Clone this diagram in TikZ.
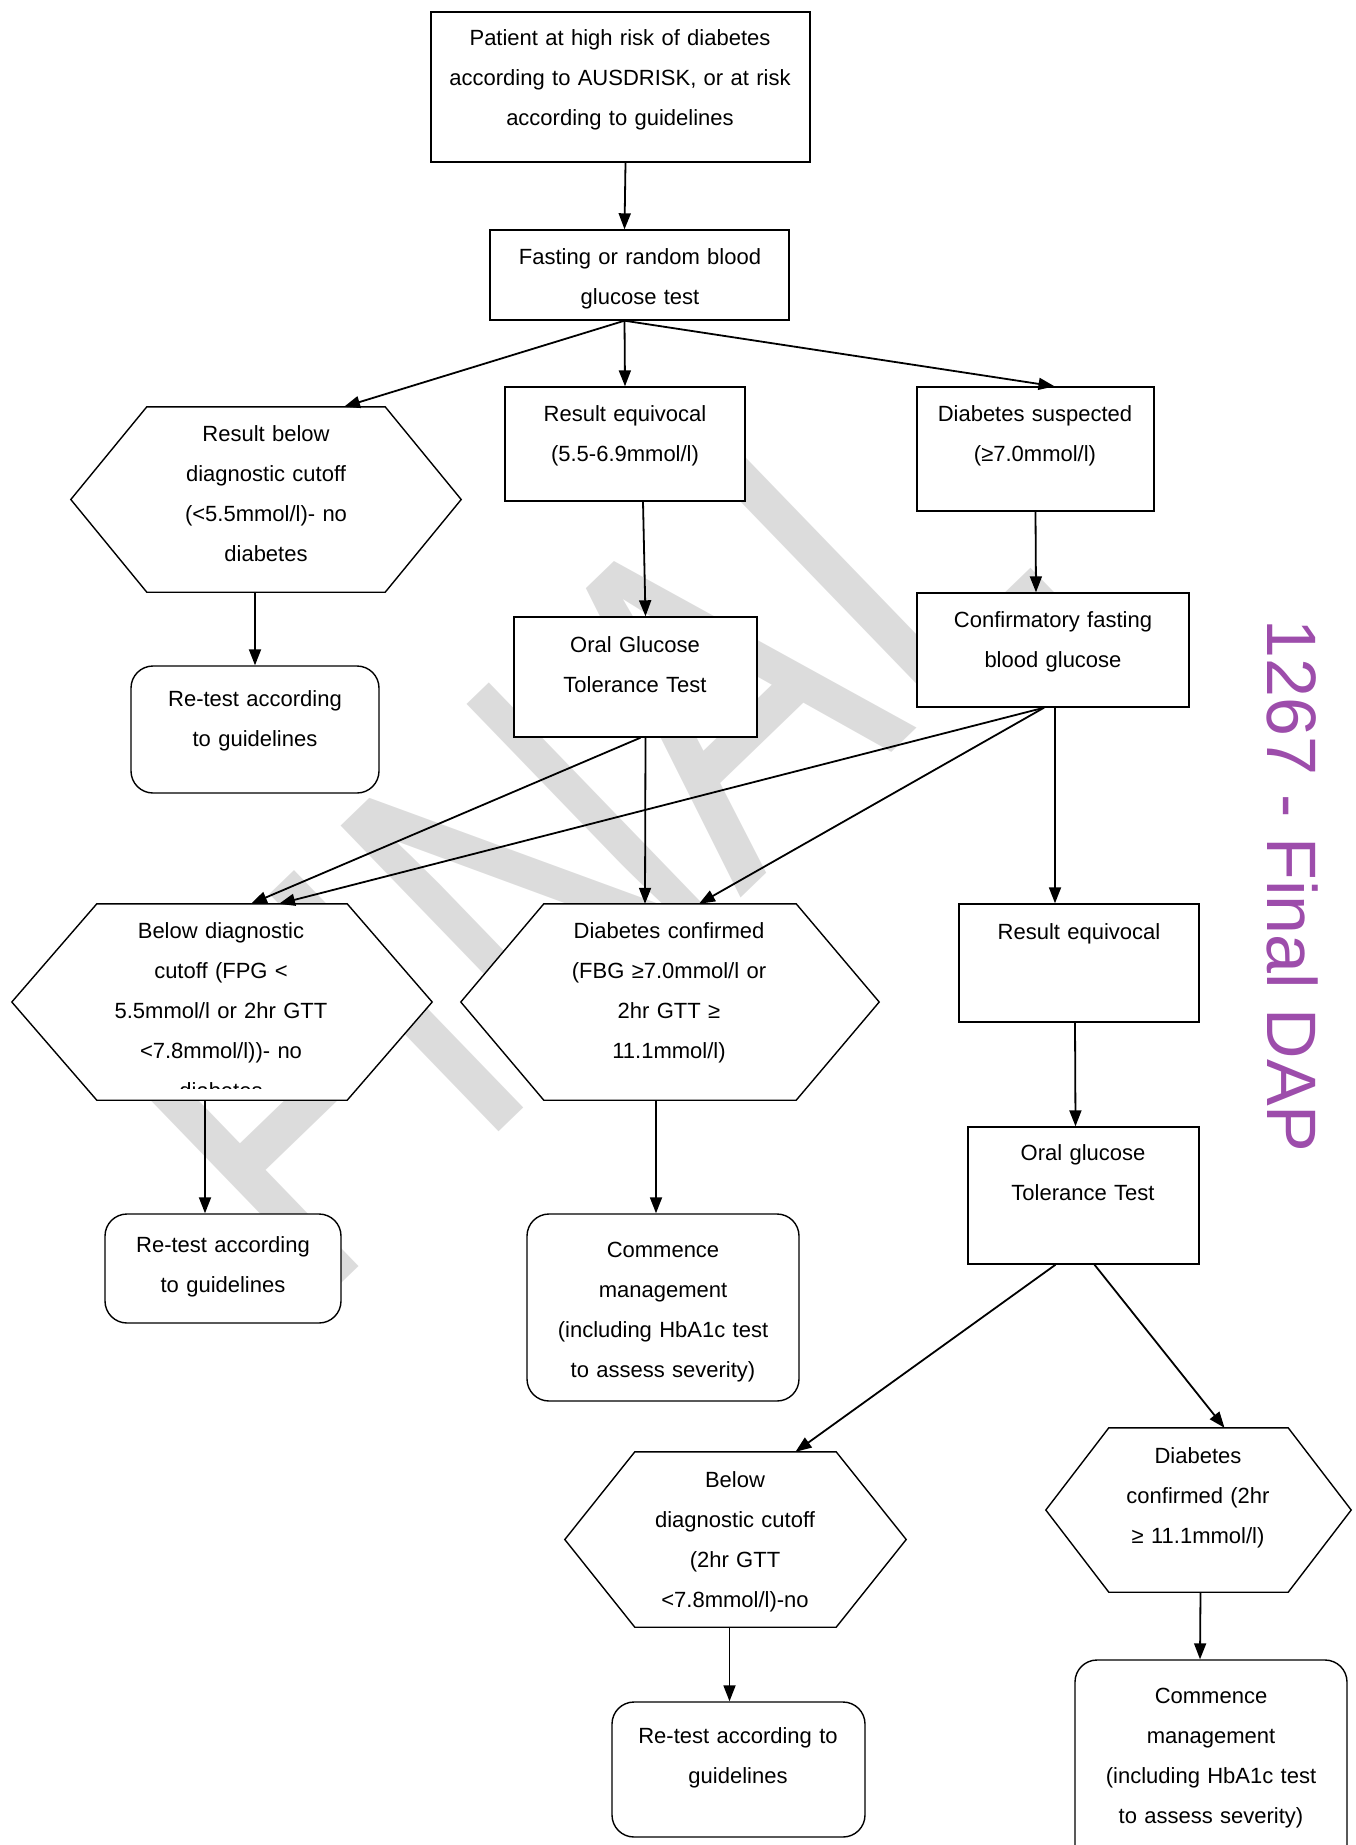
\documentclass[tikz,border=0pt]{standalone}
\usepackage{fontspec}
\setmainfont{Liberation Sans}
\usetikzlibrary{arrows.meta}
\definecolor{dap}{RGB}{157,77,171}
\definecolor{wm}{RGB}{220,220,220}
\newcommand\hexdraw[2]{\draw[line width=1.4pt, fill=white] (#1.west) -- ([xshift=#2]#1.north west) -- ([xshift=-#2]#1.north east) -- (#1.east) -- ([xshift=-#2]#1.south east) -- ([xshift=#2]#1.south west) -- cycle;}
\begin{document}
\begin{tikzpicture}[x=1pt,y=-1pt,
  shp/.style={draw=black, fill=white, line width=1.4pt, inner sep=0pt},
  boxst/.style={shp, rectangle},
  rnd/.style={shp, rectangle, rounded corners=22pt},
  hexbb/.style={inner sep=0pt, draw=none, rectangle},
  txt/.style={inner sep=0pt, anchor=north, text width=460pt, align=center, font=\fontsize{22}{40}\selectfont, text height=16pt},
  arr/.style={line width=1.8pt, -{Triangle[length=16pt,width=12pt]}}]
\useasboundingbox (0,0) rectangle (1356,1845);
% watermark
\node[rotate=44, inner sep=0pt, text=wm, font=\fontsize{369}{369}\selectfont] (wmk) at (574,830) {\scalebox{1}[1.3]{FINAL}};
% side label
\node[rotate=-90, inner sep=0pt, text=dap, font=\fontsize{70}{70}\selectfont] (lbl) at (1293,886) {1267 - Final DAP};
% boxes
\node[boxst, minimum width=379pt, minimum height=150pt] (b1) at (620.5,87) {};
\node[boxst, minimum width=299pt, minimum height=90pt] (b2) at (639.5,275) {};
\node[hexbb, minimum width=390pt, minimum height=185pt] (h1) at (266,499.5) {};
\hexdraw{h1}{76pt}
\node[boxst, minimum width=240pt, minimum height=114pt] (b3) at (625,444) {};
\node[boxst, minimum width=237pt, minimum height=124pt] (b4) at (1035.5,449) {};
\node[rnd, minimum width=248pt, minimum height=127pt] (r1) at (255,729.5) {};
\node[boxst, minimum width=243pt, minimum height=120pt] (b5) at (635.5,677) {};
\node[boxst, minimum width=272pt, minimum height=114pt] (b6) at (1053,650) {};
\node[hexbb, minimum width=420pt, minimum height=196pt] (h2) at (222,1002) {};
\hexdraw{h2}{85pt}
\node[hexbb, minimum width=418pt, minimum height=196pt] (h3) at (670,1002) {};
\hexdraw{h3}{83pt}
\node[boxst, minimum width=240pt, minimum height=118pt] (b7) at (1079,963) {};
\node[rnd, minimum width=236pt, minimum height=109pt] (r2) at (223,1268.5) {};
\node[rnd, minimum width=272pt, minimum height=187pt] (r3) at (663,1307.5) {};
\node[boxst, minimum width=231pt, minimum height=137pt] (b8) at (1083.5,1195.5) {};
\node[hexbb, minimum width=341pt, minimum height=175pt] (h4) at (735.5,1539.5) {};
\hexdraw{h4}{70pt}
\node[hexbb, minimum width=305pt, minimum height=164pt] (h5) at (1198.5,1510) {};
\hexdraw{h5}{63pt}
\node[rnd, minimum width=253pt, minimum height=135pt] (r4) at (738.5,1769.5) {};
\node[rnd, minimum width=272pt, minimum height=220pt] (r5) at (1211,1770) {};
% texts
\node[txt] (t1) at (620,29) {Patient at high risk of diabetes\\according to AUSDRISK, or at risk\\according to guidelines};
\node[txt] (t2) at (640,248) {Fasting or random blood\\glucose test};
\node[txt] (t3) at (266,425) {Result below\\diagnostic cutoff\\(<5.5mmol/l)- no\\diabetes};
\node[txt] (t4) at (625,405) {Result equivocal\\(5.5-6.9mmol/l)};
\node[txt] (t5) at (1035,405) {Diabetes suspected\\(≥7.0mmol/l)};
\node[txt] (t6) at (255,690) {Re-test according\\to guidelines};
\node[txt] (t7) at (635,636) {Oral Glucose\\Tolerance Test};
\node[txt] (t8) at (1053,611) {Confirmatory fasting\\blood glucose};
\begin{scope}
\clip (0,880) rectangle (460,1088);
\node[txt] (t9) at (221,922) {Below diagnostic\\cutoff (FPG <\\5.5mmol/l or 2hr GTT\\<7.8mmol/l))- no\\diabetes};
\end{scope}
\node[txt] (t10) at (669,922) {Diabetes confirmed\\(FBG ≥7.0mmol/l or\\2hr GTT ≥\\11.1mmol/l)};
\node[txt] (t11) at (1079,923) {Result equivocal};
\node[txt] (t12) at (223,1236) {Re-test according\\to guidelines};
\node[txt] (t13) at (663,1241) {Commence\\management\\(including HbA1c test\\to assess severity)};
\node[txt] (t14) at (1083,1144) {Oral glucose\\Tolerance Test};
\node[txt] (t15) at (735,1471) {Below\\diagnostic cutoff\\(2hr GTT\\<7.8mmol/l)-no};
\node[txt] (t16) at (1198,1447) {Diabetes\\confirmed (2hr\\≥ 11.1mmol/l)};
\node[txt] (t17) at (738,1727) {Re-test according to\\guidelines};
\node[txt] (t18) at (1211,1687) {Commence\\management\\(including HbA1c test\\to assess severity)};
% connectors
\draw[arr] ([xshift=5pt]b1.south) -- ([xshift=-15pt]b2.north);
\draw[arr] ([xshift=-15pt]b2.south) -- ([xshift=78pt]h1.north);
\draw[arr] ([xshift=-15pt]b2.south) -- (b3.north);
\draw[arr] ([xshift=-15pt]b2.south) -- ([xshift=19pt]b4.north);
\draw[arr] ([xshift=-11pt]h1.south) -- (r1.north);
\draw[arr] ([xshift=18pt]b3.south) -- ([xshift=10pt]b5.north);
\draw[arr] (b4.south) -- ([xshift=-17pt]b6.north);
\draw[arr] ([xshift=5pt]b5.south) -- ([xshift=29pt]h2.north);
\draw[arr] ([xshift=10pt]b5.south) -- ([xshift=-25pt]h3.north);
\draw[arr] ([xshift=-9pt]b6.south) -- ([xshift=57pt]h2.north);
\draw[arr] ([xshift=-9pt]b6.south) -- ([xshift=29pt]h3.north);
\draw[arr] ([xshift=2pt]b6.south) -- ([xshift=-24pt]b7.north);
\draw[arr] ([xshift=-17pt]h2.south) -- ([xshift=-18pt]r2.north);
\draw[arr] ([xshift=-14pt]h3.south) -- ([xshift=-7pt]r3.north);
\draw[arr] ([xshift=-4pt]b7.south) -- ([xshift=-8pt]b8.north);
\draw[arr] ([xshift=-28pt]b8.south) -- ([xshift=60pt]h4.north);
\draw[arr] ([xshift=11pt]b8.south) -- ([xshift=26pt]h5.north);
\draw[arr] ([xshift=-6pt]h4.south) -- ([xshift=-9pt]r4.north);
\draw[arr] ([xshift=2pt]h5.south) -- ([xshift=-11pt]r5.north);
\end{tikzpicture}
\end{document}
